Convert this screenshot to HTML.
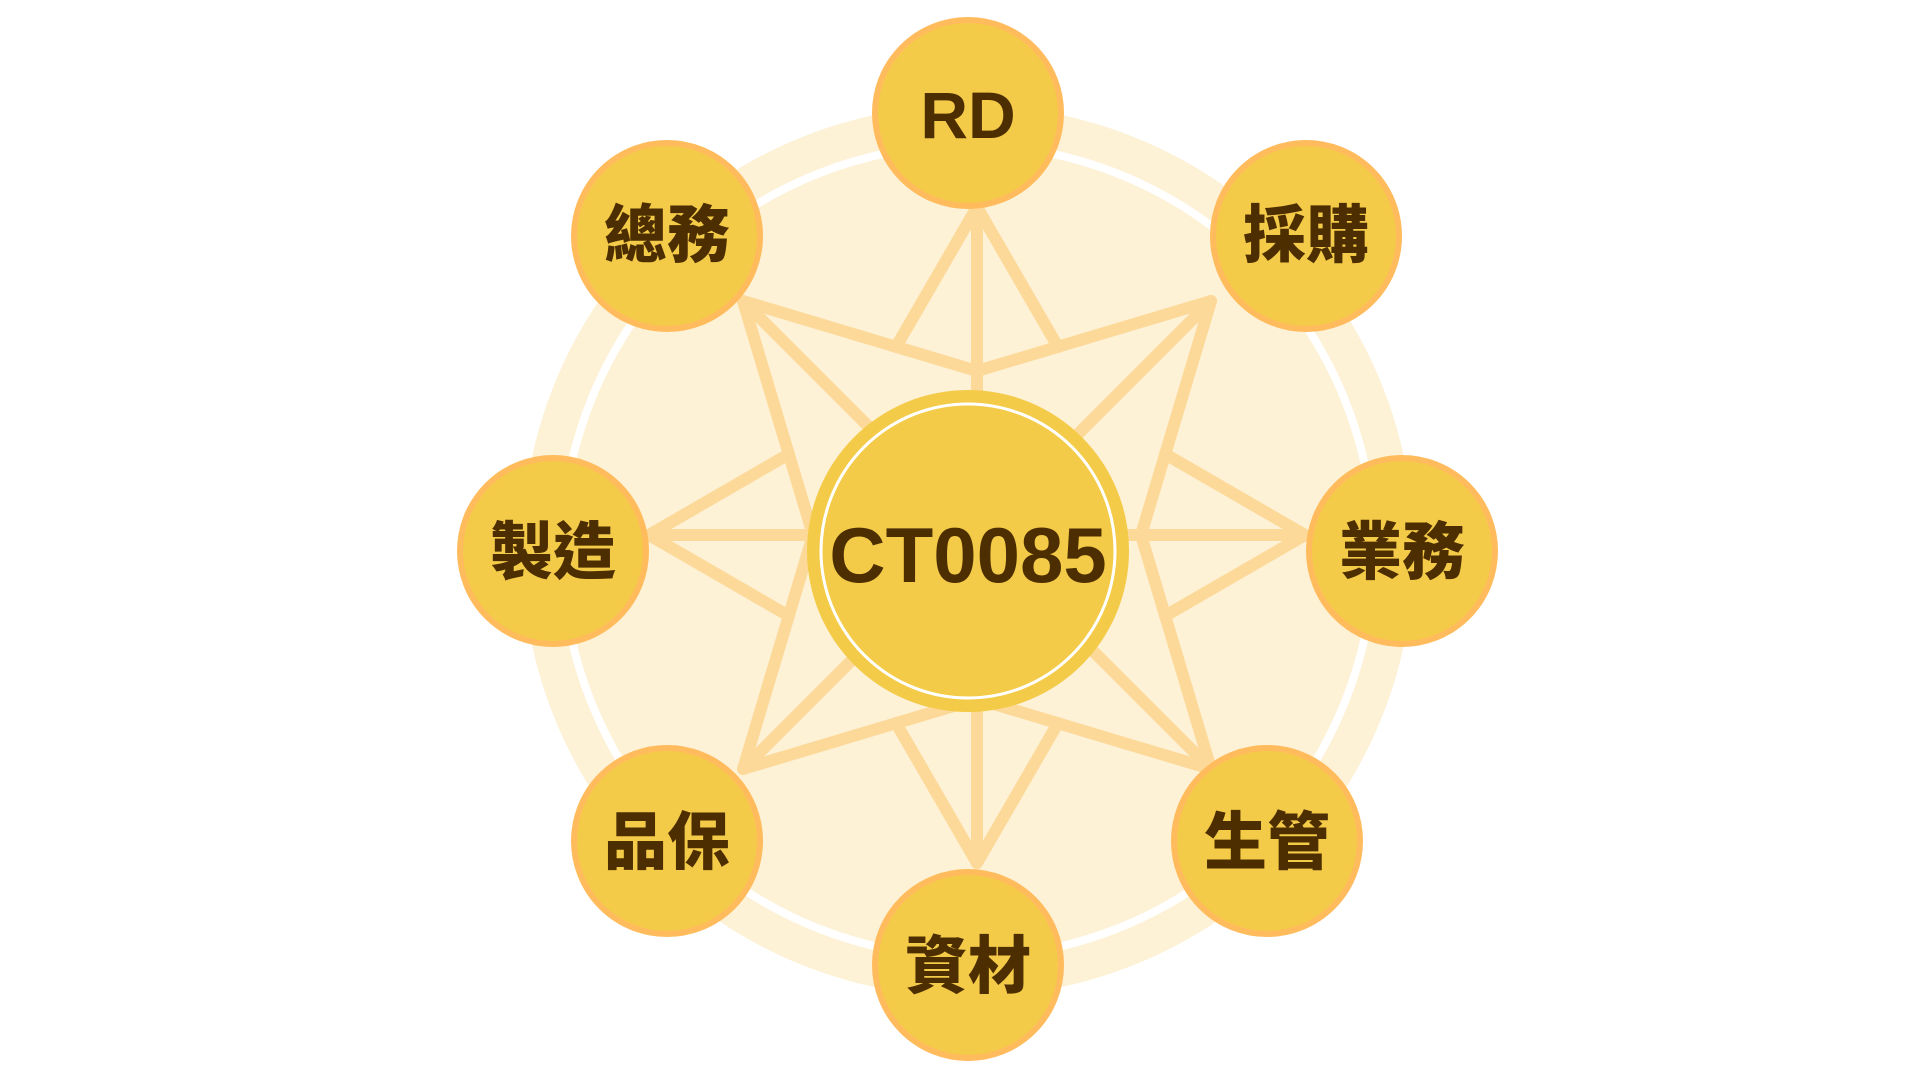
<!DOCTYPE html>
<html><head><meta charset="utf-8"><style>
html,body{margin:0;padding:0;background:#fff;}
svg{display:block;}
text{font-family:"Liberation Sans","Noto Sans CJK TC",sans-serif;font-weight:900;fill:#4d2e00;text-anchor:middle;dominant-baseline:central;}
</style></head><body>
<svg width="1920" height="1080" viewBox="0 0 1920 1080">
<circle cx="968" cy="551" r="446" fill="#fdf1d6"/>
<circle cx="968" cy="551" r="406" fill="none" stroke="#fff" stroke-width="8"/>
<g stroke="#fdd999" stroke-width="12" stroke-linecap="round" stroke-linejoin="round" fill="none">
<line x1="977" y1="207" x2="977" y2="863"/>
<line x1="649" y1="535" x2="1305" y2="535"/>
<line x1="743" y1="301" x2="1211" y2="769"/>
<line x1="1211" y1="301" x2="743" y2="769"/>
<polygon points="743,301 977,371 1211,301 1141,535 1211,769 977,699 743,769 813,535"/>
<polyline points="896,347 977,207 1058,347"/>
<polyline points="1165,454 1305,535 1165,616"/>
<polyline points="896,723 977,863 1058,723"/>
<polyline points="789,454 649,535 789,616"/>
</g>
<circle cx="968" cy="551" r="161" fill="#f4cb48"/>
<circle cx="968" cy="551" r="147" fill="none" stroke="#fff" stroke-width="3"/>
<text x="968" y="555" font-size="78" style="font-family:'Liberation Sans',sans-serif;font-weight:700">CT0085</text>
<g fill="#f4cb48" stroke="#ffbb5c" stroke-width="6">
<circle cx="968" cy="113" r="93"/>
<circle cx="1306" cy="236" r="93"/>
<circle cx="1402" cy="551" r="93"/>
<circle cx="1267" cy="841" r="93"/>
<circle cx="968" cy="965" r="93"/>
<circle cx="667" cy="841" r="93"/>
<circle cx="553" cy="551" r="93"/>
<circle cx="667" cy="236" r="93"/>
</g>
<text x="968" y="115" font-size="66" style="font-family:'Liberation Sans',sans-serif;font-weight:700">RD</text>
<text x="1306" y="236" font-size="63">採購</text>
<text x="1402" y="553" font-size="63">業務</text>
<text x="1267" y="843" font-size="63">生管</text>
<text x="968" y="967" font-size="63">資材</text>
<text x="667" y="843" font-size="63">品保</text>
<text x="553" y="553" font-size="63">製造</text>
<text x="667" y="236" font-size="63">總務</text>
</svg>
</body></html>
